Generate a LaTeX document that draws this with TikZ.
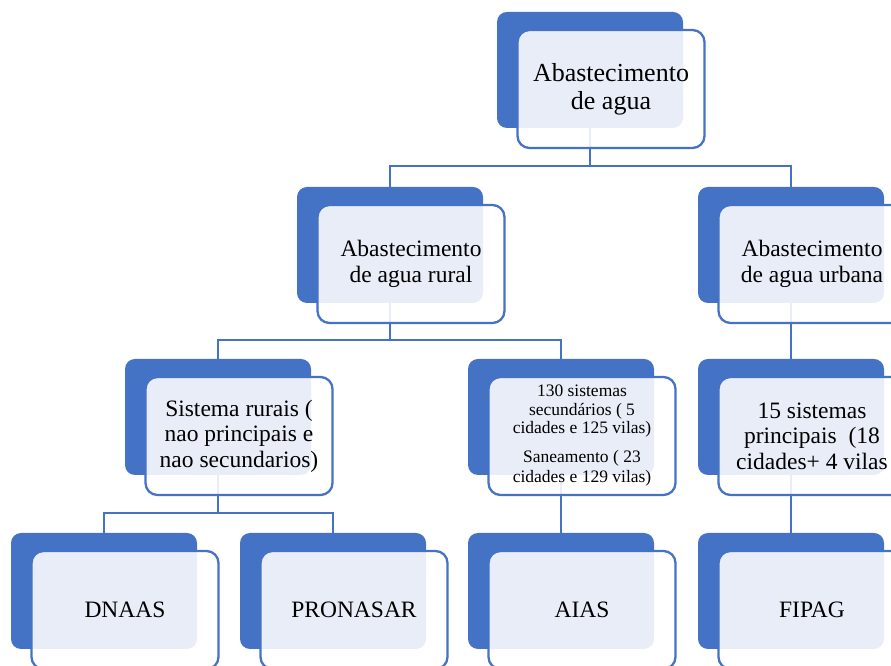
\documentclass[tikz,border=0pt]{standalone}
\usepackage{fontspec}
\setmainfont{Liberation Serif}
\definecolor{boxblue}{HTML}{4472C4}
\tikzset{
  backbox/.style={fill=boxblue,rounded corners=10pt,minimum width=186pt,minimum height=116pt,inner sep=0pt},
  frontbox/.style={fill=white,fill opacity=.88,text opacity=1,draw=boxblue,line width=2.3pt,rounded corners=12pt,
    minimum width=187pt,minimum height=118pt,inner sep=0pt,align=center,font=\fontsize{23.5}{25.5}\selectfont},
  link/.style={draw=boxblue,line width=2.3pt}
}
\begin{document}
\begin{tikzpicture}[x=1pt,y=1pt]
\clip(0,0)rectangle(891,666);
\node[backbox](topB)at(590,596){};
\node[backbox](ruralB)at(390,421){};
\node[backbox](urbanB)at(791,421){};
\node[backbox](sistB)at(218,249){};
\node[backbox](secB)at(561,249){};
\node[backbox](princB)at(791,249){};
\node[backbox](dnaasB)at(104,75){};
\node[backbox](pronasarB)at(333,75){};
\node[backbox](aiasB)at(561,75){};
\node[backbox](fipagB)at(791,75){};
\draw[link](topB.south)--++(0,-38)-|(ruralB.north);
\draw[link](topB.south)--++(0,-38)-|(urbanB.north);
\draw[link](ruralB.south)--++(0,-37)-|(sistB.north);
\draw[link](ruralB.south)--++(0,-37)-|(secB.north);
\draw[link](urbanB.south)--(princB.north);
\draw[link](sistB.south)--++(0,-38)-|(dnaasB.north);
\draw[link](sistB.south)--++(0,-38)-|(pronasarB.north);
\draw[link](secB.south)--(aiasB.north);
\draw[link](princB.south)--(fipagB.north);
\node[frontbox,font=\fontsize{26}{28}\selectfont](top)at([shift={(21,-19)}]topB.center){Abastecimento\\de agua};
\node[frontbox](rural)at([shift={(21,-19)}]ruralB.center){Abastecimento\\de agua rural};
\node[frontbox](urban)at([shift={(21,-19)}]urbanB.center){Abastecimento\\de agua urbana};
\node[frontbox](sist)at([shift={(21,-19)}]sistB.center){Sistema rurais (\\nao principais e\\nao secundarios)};
\node[frontbox,font=\fontsize{17.5}{18.5}\selectfont](sec)at([shift={(21,-19)}]secB.center){130 sistemas\\secundários ( 5\\cidades e 125 vilas)\\[10pt]Saneamento ( 23\\[2pt]cidades e 129 vilas)};
\node[frontbox](princ)at([shift={(21,-19)}]princB.center){15 sistemas\\principais~ (18\\cidades+ 4 vilas};
\node[frontbox](dnaas)at([shift={(21,-19)}]dnaasB.center){DNAAS};
\node[frontbox](pronasar)at([shift={(21,-19)}]pronasarB.center){PRONASAR};
\node[frontbox](aias)at([shift={(21,-19)}]aiasB.center){AIAS};
\node[frontbox](fipag)at([shift={(21,-19)}]fipagB.center){FIPAG};
\end{tikzpicture}
\end{document}
